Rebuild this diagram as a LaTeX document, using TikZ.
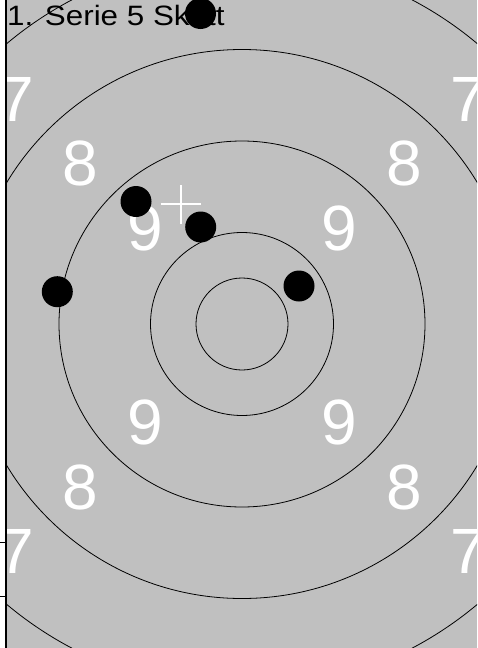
\documentclass[tikz,border=0pt]{standalone}
\usepackage{fontspec}
\setmainfont{Liberation Sans}
\newfontfamily\titlefont[FakeStretch=1.12]{Liberation Sans}
\usepackage{xcolor}
\definecolor{targetgray}{RGB}{192,192,192}
\usetikzlibrary{positioning}

\begin{document}
\begin{tikzpicture}[x=1pt,y=-1pt]
\tikzstyle{ring}=[draw=black,line width=0.8pt]
\tikzstyle{ringnum}=[text=white,font=\fontsize{64}{64}\selectfont,inner sep=0pt,text height=46pt,text depth=0pt]
\tikzstyle{hit}=[circle,fill=black,minimum size=31pt,inner sep=0pt]
\useasboundingbox (0,0) rectangle (477,648);
% table border left of the target
\fill[white] (0,0) rectangle (477,648);
\draw[line width=0.6pt] (0,542) -- (6,542);
\draw[line width=0.6pt] (0,596) -- (6,596);
\draw[line width=2pt] (6,0) -- (6,648);
\begin{scope}
\clip (7,0) rectangle (477,648);
\fill[targetgray] (7,0) rectangle (477,648);
\coordinate (c) at (242,324);
% rings
\draw[ring] (c) circle[radius=46pt];
\draw[ring] (c) circle[radius=91.5pt];
\draw[ring] (c) circle[radius=183pt];
\draw[ring] (c) circle[radius=274.5pt];
\draw[ring] (c) circle[radius=366pt];
% ring numbers
\node[ringnum] (n9a) at (145,227) {9};
\node[ringnum] (n9b) at (339,227) {9};
\node[ringnum] (n9c) at (145,421) {9};
\node[ringnum] (n9d) at (339,421) {9};
\node[ringnum] (n8a) at (80,162) {8};
\node[ringnum] (n8b) at (404,162) {8};
\node[ringnum] (n8c) at (80,486) {8};
\node[ringnum] (n8d) at (404,486) {8};
\node[ringnum] (n7a) at (16,98) {7};
\node[ringnum] (n7b) at (468,98) {7};
\node[ringnum] (n7c) at (16,550) {7};
\node[ringnum] (n7d) at (468,550) {7};
% title
\node[anchor=base west,inner sep=0pt,font=\titlefont\fontsize{28}{28}\selectfont] (title) at (7,25) {1. Serie 5 Skott};
% mean point of impact (white cross)
\coordinate (aim) at (180.5,204);
\draw[white,line width=2pt] ([xshift=-20pt]aim) -- ([xshift=20pt]aim);
\draw[white,line width=2pt] ([yshift=-19.5pt]aim) -- ([yshift=19.5pt]aim);
% hits
\node[hit] (s1) at (200.5,13.5) {};
\node[hit] (s2) at (136,201.5) {};
\node[hit] (s3) at (200.7,227) {};
\node[hit] (s4) at (57.3,291.7) {};
\node[hit] (s5) at (299,286) {};
\end{scope}
\end{tikzpicture}
\end{document}
